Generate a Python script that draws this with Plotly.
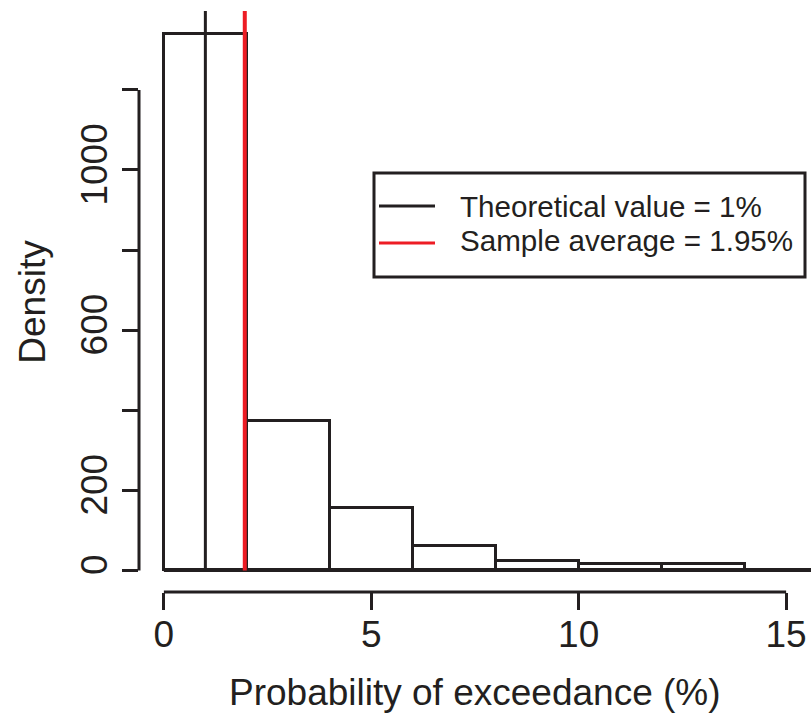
import plotly.graph_objects as go

# ---- data ----
bin_edges = [0, 2, 4, 6, 8, 10, 12, 14, 16]
density = [1340, 373, 157, 62, 24, 17, 17, 0]
theoretical_value = 1.0
sample_average = 1.95
legend_labels = ["Theoretical value = 1%", "Sample average = 1.95%"]
x_tickvals = [0, 5, 10, 15]
y_tickvals = [0, 200, 400, 600, 800, 1000, 1200]
y_ticktext = ["0", "200", "", "600", "", "1000", ""]
x_title = "Probability of exceedance (%)"
y_title = "Density"

# ---- layout constants ----
W, H = 812, 713
L, R, T, B = 139, 1, 11, 121
PW, PH = W - L - R, H - T - B
X_RANGE = [-0.6, 15.6]
Y_RANGE = [-54, 1397]
BLACK = "#231f20"
RED = "#ed1c24"
FONT = "Liberation Sans, Arial, Helvetica, sans-serif"


def px_x(px):
    # window pixel -> paper fraction
    return (px - L) / PW


def px_y(py):
    return (H - B - py) / PH


centers = [(a + b) / 2 for a, b in zip(bin_edges[:-1], bin_edges[1:])]
widths = [b - a for a, b in zip(bin_edges[:-1], bin_edges[1:])]

fig = go.Figure()
fig.add_trace(go.Bar(
    x=centers, y=density, width=widths,
    marker=dict(color="rgba(0,0,0,0)", line=dict(color=BLACK, width=3)),
    showlegend=False, hoverinfo="x+y",
))
# baseline of histogram (covers zero-height bins)
fig.add_trace(go.Scatter(
    x=[bin_edges[0], bin_edges[-1]], y=[0, 0], mode="lines",
    line=dict(color=BLACK, width=3), showlegend=False, hoverinfo="skip",
))
fig.add_trace(go.Scatter(
    x=[theoretical_value, theoretical_value], y=[0, Y_RANGE[1]], mode="lines",
    line=dict(color=BLACK, width=3), name=legend_labels[0], showlegend=False,
))
fig.add_trace(go.Scatter(
    x=[sample_average, sample_average], y=[0, Y_RANGE[1]], mode="lines",
    line=dict(color=RED, width=4), name=legend_labels[1], showlegend=False,
))

shapes = [
    # R-style axis lines spanning only the tick range
    dict(type="line", xref="x", yref="paper", x0=x_tickvals[0], x1=x_tickvals[-1],
         y0=0, y1=0, line=dict(color=BLACK, width=3)),
    dict(type="line", xref="paper", yref="y", x0=0, x1=0,
         y0=y_tickvals[0], y1=y_tickvals[-1], line=dict(color=BLACK, width=3)),
    # legend box
    dict(type="rect", xref="paper", yref="paper", x0=px_x(374), x1=px_x(805),
         y0=px_y(277), y1=px_y(173), line=dict(color=BLACK, width=3),
         fillcolor="white", layer="above"),
    dict(type="line", xref="paper", yref="paper", x0=px_x(379), x1=px_x(435),
         y0=px_y(206), y1=px_y(206), line=dict(color=BLACK, width=3), layer="above"),
    dict(type="line", xref="paper", yref="paper", x0=px_x(379), x1=px_x(435),
         y0=px_y(243), y1=px_y(243), line=dict(color=RED, width=3), layer="above"),
]

annotations = [
    dict(text=legend_labels[0], xref="paper", yref="paper", x=px_x(458), y=px_y(206.4),
         xanchor="left", yanchor="middle", showarrow=False,
         font=dict(family=FONT, size=29.6, color=BLACK)),
    dict(text=legend_labels[1], xref="paper", yref="paper", x=px_x(458), y=px_y(240.4),
         xanchor="left", yanchor="middle", showarrow=False,
         font=dict(family=FONT, size=29.6, color=BLACK)),
    dict(text=x_title, xref="paper", yref="paper", x=0.5, y=px_y(692.2),
         xanchor="center", yanchor="middle", showarrow=False,
         font=dict(family=FONT, size=37, color=BLACK)),
    dict(text=y_title, xref="paper", yref="paper", x=px_x(32.2), y=0.5,
         xanchor="center", yanchor="middle", showarrow=False, textangle=-90,
         font=dict(family=FONT, size=37, color=BLACK)),
]

fig.update_layout(
    width=W, height=H,
    margin=dict(l=L, r=R, t=T, b=B, autoexpand=False),
    paper_bgcolor="white", plot_bgcolor="white",
    bargap=0, showlegend=False,
    shapes=shapes, annotations=annotations,
    font=dict(family=FONT, size=37, color=BLACK),
    xaxis=dict(range=X_RANGE, tickvals=x_tickvals, ticks="outside", ticklen=16.5,
               tickwidth=3, tickcolor=BLACK, showline=False, showgrid=False,
               zeroline=False, tickfont=dict(family=FONT, size=37, color=BLACK),
               ticklabelstandoff=-7),
    yaxis=dict(range=Y_RANGE, tickvals=y_tickvals, ticktext=y_ticktext, ticks="outside",
               ticklen=16.5, tickwidth=3, tickcolor=BLACK, showline=False,
               showgrid=False, zeroline=False, tickangle=-90,
               tickfont=dict(family=FONT, size=37, color=BLACK)),
)

# remove the default page margin so the figure fills the 812x713 window exactly
fig.write_html(
    "out.html",
    config={"displayModeBar": False},
    post_script="document.body.style.margin='0';document.body.style.overflow='hidden';",
)
